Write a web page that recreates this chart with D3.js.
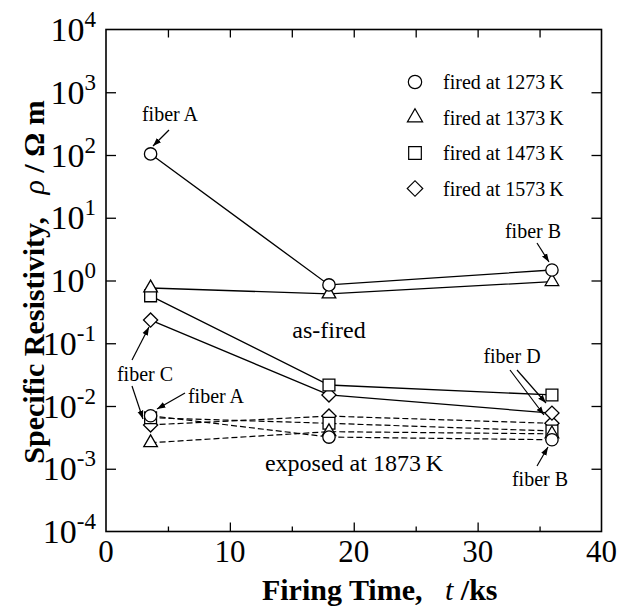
<!DOCTYPE html>
<html>
<head>
<meta charset="utf-8">
<script src="https://cdn.jsdelivr.net/npm/d3@7"></script>
<style>
  body { margin: 0; background: #fff; }
  text { font-family: "Liberation Serif", "DejaVu Serif", serif; fill: #000; }
</style>
</head>
<body>
<svg id="chart" width="619" height="608"></svg>
<script>
// firing time (ks)
var times = [3.6, 18, 36];
var firingTemps = ["1273", "1373", "1473", "1573"];

// as-fired resistivity (ohm m)
var asFired1273 = [104, 0.85, 1.47];
var asFired1373 = [0.76, 0.61, 0.96];
var asFired1473 = [0.57, 0.0216, 0.015];
var asFired1573 = [0.234, 0.015, 0.0077];

// after exposure at 1873 K
var exposed1273 = [0.0070, 0.0032, 0.0029];
var exposed1373 = [0.0026, 0.0039, 0.0036];
var exposed1473 = [0.0065, 0.0053, 0.0040];
var exposed1573 = [0.0050, 0.0069, 0.0053];

var xTicks = [0, 10, 20, 30, 40];
var yExps = [-4, -3, -2, -1, 0, 1, 2, 3, 4];

var margin = {top: 29.5, right: 17.5, bottom: 76.5, left: 106},
    W = 619, H = 608,
    width = W - margin.left - margin.right,
    height = H - margin.top - margin.bottom;

var svg = d3.select("#chart");
var g = svg.append("g")
    .attr("transform", "translate(" + margin.left + "," + margin.top + ")");

var x = d3.scaleLinear().domain([0, 40]).range([0, width]);
var y = d3.scaleLog().domain([1e-4, 1e4]).range([height, 0]);

// frame
g.append("rect")
    .attr("width", width).attr("height", height)
    .attr("fill", "none").attr("stroke", "#000").attr("stroke-width", 1.6);

function styleAxis(sel) {
    sel.select(".domain").remove();
    sel.selectAll("line").attr("stroke", "#000").attr("stroke-width", 1.3);
}

var minorX = [5, 15, 25, 35];
g.append("g").attr("transform", "translate(0," + height + ")")
    .call(d3.axisBottom(x).tickValues([10, 20, 30]).tickSize(-9).tickFormat(""))
    .call(styleAxis);
g.append("g").attr("transform", "translate(0," + height + ")")
    .call(d3.axisBottom(x).tickValues(minorX).tickSize(-5).tickFormat(""))
    .call(styleAxis);
g.append("g")
    .call(d3.axisTop(x).tickValues([5, 10, 15, 20, 25, 30, 35]).tickSize(-8).tickFormat(""))
    .call(styleAxis);

var decades = yExps.slice(1, -1).map(function(e) { return Math.pow(10, e); });
g.append("g")
    .call(d3.axisLeft(y).tickValues(decades).tickSize(-10).tickFormat(""))
    .call(styleAxis);
g.append("g").attr("transform", "translate(" + width + ",0)")
    .call(d3.axisRight(y).tickValues(decades).tickSize(-10).tickFormat(""))
    .call(styleAxis);

// tick labels
g.selectAll(".xlab")
    .data(xTicks)
    .enter().append("text")
    .attr("class", "xlab")
    .attr("x", function(d) { return x(d); })
    .attr("y", height + 30)
    .attr("text-anchor", "middle")
    .style("font-size", "31px")
    .text(function(d) { return d; });

var ylab = g.selectAll(".ylab")
    .data(yExps)
    .enter().append("text")
    .attr("class", "ylab")
    .attr("x", -10)
    .attr("y", function(d) { return y(Math.pow(10, d)) + 11.5; })
    .attr("text-anchor", "end")
    .style("font-size", "34px");
ylab.append("tspan").text("10");
ylab.append("tspan")
    .attr("dy", -14)
    .style("font-size", "23px")
    .text(function(d) { return d; });

// axis titles
svg.append("text")
    .attr("x", margin.left + width / 2 + 26)
    .attr("y", 600)
    .attr("text-anchor", "middle")
    .style("font-size", "30px")
    .style("font-weight", "bold")
    .html('Firing Time,\u2002 <tspan font-style="italic" font-weight="normal">t</tspan> /ks');

svg.append("text")
    .attr("transform", "translate(44,282) rotate(-90)")
    .attr("text-anchor", "middle")
    .style("font-size", "30px")
    .style("font-weight", "bold")
    .html('Specific Resistivity,\u2002 <tspan font-style="italic" font-weight="normal">\u03c1</tspan> / \u03a9 m');

// series
var symbolTypes = [d3.symbolCircle, d3.symbolTriangle, d3.symbolSquare, d3.symbolSquare];
var symbolSizes = [120, 80, 140, 100];
var symbolRotate = [0, 0, 0, 45];

var asFired = [asFired1273, asFired1373, asFired1473, asFired1573];
var exposed = [exposed1273, exposed1373, exposed1473, exposed1573];

var line = d3.line()
    .x(function(d, i) { return x(times[i]); })
    .y(function(d) { return y(d); });

exposed.forEach(function(vals) {
    g.append("path").datum(vals)
        .attr("d", line)
        .attr("fill", "none").attr("stroke", "#000")
        .attr("stroke-width", 1.2)
        .attr("stroke-dasharray", "6,3");
});
asFired.forEach(function(vals) {
    g.append("path").datum(vals)
        .attr("d", line)
        .attr("fill", "none").attr("stroke", "#000")
        .attr("stroke-width", 1.3);
});

function drawMarkers(vals, k) {
    g.selectAll(null)
        .data(vals)
        .enter().append("path")
        .attr("d", d3.symbol().type(symbolTypes[k]).size(symbolSizes[k]))
        .attr("transform", function(d, i) {
            return "translate(" + x(times[i]) + "," + y(d) + ") rotate(" + symbolRotate[k] + ")";
        })
        .attr("fill", "#fff").attr("stroke", "#000").attr("stroke-width", 1.3);
}
[3, 2, 1, 0].forEach(function(k) { drawMarkers(exposed[k], k); });
[3, 2, 1, 0].forEach(function(k) { drawMarkers(asFired[k], k); });

// legend
var legend = g.selectAll(".legend")
    .data(firingTemps)
    .enter().append("g")
    .attr("class", "legend")
    .attr("transform", function(d, i) { return "translate(" + (415 - margin.left) + "," + (82 - margin.top + i * 35.5) + ")"; });

legend.append("path")
    .attr("d", function(d, i) { return d3.symbol().type(symbolTypes[i]).size(symbolSizes[i] + 20)(); })
    .attr("transform", function(d, i) { return "rotate(" + symbolRotate[i] + ")"; })
    .attr("fill", "#fff").attr("stroke", "#000").attr("stroke-width", 1.2);

legend.append("text")
    .attr("x", 28)
    .attr("y", 7)
    .style("font-size", "20px")
    .text(function(d) { return "fired at " + d + "\u2009K"; });

// annotations (page coordinates)
var notes = [
    {text: "fiber A", x: 170, y: 121, size: 20},
    {text: "fiber C", x: 145, y: 381, size: 20},
    {text: "fiber A", x: 216, y: 403, size: 20},
    {text: "fiber B", x: 533, y: 238, size: 20},
    {text: "fiber D", x: 512, y: 363, size: 20},
    {text: "fiber B", x: 540, y: 486, size: 20},
    {text: "as-fired", x: 329, y: 338, size: 24},
    {text: "exposed at 1873\u2009K", x: 354, y: 471, size: 24}
];
svg.selectAll(".note")
    .data(notes)
    .enter().append("text")
    .attr("class", "note")
    .attr("x", function(d) { return d.x; })
    .attr("y", function(d) { return d.y; })
    .attr("text-anchor", "middle")
    .style("font-size", function(d) { return d.size + "px"; })
    .text(function(d) { return d.text; });

svg.append("defs").append("marker")
    .attr("id", "arrow")
    .attr("viewBox", "0 0 10 10")
    .attr("refX", 10).attr("refY", 5)
    .attr("markerWidth", 7).attr("markerHeight", 7)
    .attr("orient", "auto-start-reverse")
    .append("path")
    .attr("d", "M0,1.5 L10,5 L0,8.5 Z")
    .attr("fill", "#000");

var arrows = [
    [169, 130, 153, 146],
    [132, 360, 149, 327],
    [132, 386, 143, 419],
    [185, 393, 157, 409],
    [537, 243, 549, 262],
    [510, 370, 544, 415],
    [517, 370, 546, 403],
    [537, 466, 548, 447]
];
svg.selectAll(".arrow")
    .data(arrows)
    .enter().append("line")
    .attr("class", "arrow")
    .attr("x1", function(d) { return d[0]; })
    .attr("y1", function(d) { return d[1]; })
    .attr("x2", function(d) { return d[2]; })
    .attr("y2", function(d) { return d[3]; })
    .attr("stroke", "#000").attr("stroke-width", 1.2)
    .attr("marker-end", "url(#arrow)");
</script>
</body>
</html>
